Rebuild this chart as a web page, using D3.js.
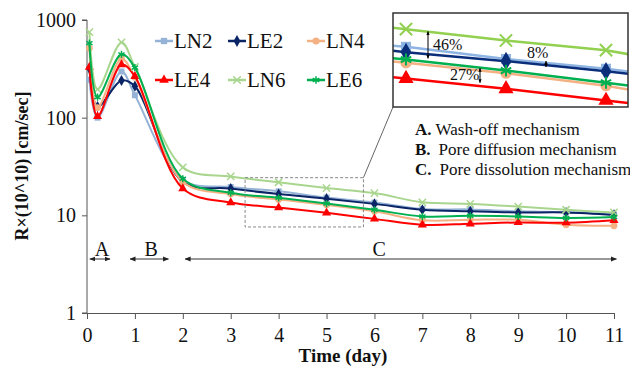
<!DOCTYPE html>
<html>
<head>
<meta charset="utf-8">
<script src="https://cdn.jsdelivr.net/npm/d3@7"></script>
<style>
  body { margin: 0; background: #fff; }
  svg text { font-family: "Liberation Serif", "Times New Roman", serif !important; fill: #111; }
</style>
</head>
<body>
<svg id="chart" width="630" height="372"></svg>
<script>
// sampling times (day)
const days = [0.05, 0.22, 0.72, 1, 2, 3, 4, 5, 6, 7, 8, 9, 10, 11];
const xTicks = [0, 1, 2, 3, 4, 5, 6, 7, 8, 9, 10, 11];
const yTicks = [1, 10, 100, 1000];

// R x 10^10 (cm/sec)
const LN2 = [245, 100, 297, 170, 23, 19.5, 17.6, 15.2, 13.5, 11.6, 11.5, 11, 10.8, 10.2];
const LE2 = [320, 130, 240, 210, 22, 18.8, 16.5, 14.8, 13.1, 11.4, 11.0, 10.7, 10.7, 10.1];
const LN4 = [515, 127, 400, 260, 22, 16.5, 14.5, 12.8, 11, 8.9, 9.0, 9.0, 8.0, 7.8];
const LE4 = [330, 103, 350, 265, 18.8, 13.5, 12, 10.6, 9.2, 8.0, 8.2, 8.45, 8.4, 8.9];
const LN6 = [750, 195, 590, 330, 31, 25, 21.8, 19, 16.9, 13.6, 13.1, 12.3, 11.4, 10.7];
const LE6 = [580, 162, 445, 325, 23.7, 17, 15.1, 13.2, 11.4, 9.75, 9.9, 9.75, 9.4, 9.6];

const seriesNames = ['LN2', 'LE2', 'LN4', 'LE4', 'LN6', 'LE6'];
const seriesValues = [LN2, LE2, LN4, LE4, LN6, LE6];
const colors = ['#95b3d7', '#0a2466', '#f4b183', '#ff0000', '#a9d68e', '#00b050'];
const symbols = ['square', 'diamond', 'circle', 'triangle', 'x', 'star'];

const mechanisms = ['Wash-off mechanism', 'Pore diffusion mechanism', 'Pore dissolution mechanism'];
const mechLetters = ['A.', 'B.', 'C.'];
// phase ranges in days [start, end]
const phases = [{label: 'A', t0: 0.06, t1: 0.48}, {label: 'B', t0: 0.9, t1: 1.7}, {label: 'C', t0: 2.05, t1: 11.05}];

const svg = d3.select('#chart');

const x = d3.scaleLinear().domain([0, 11]).range([87, 614]);
const y = d3.scaleLog().domain([1, 1000]).range([313, 20]);

// axes
const yAxis = svg.append('g').attr('transform', 'translate(87,0)')
  .call(d3.axisLeft(y).tickValues(yTicks).tickFormat(d3.format('d')).tickSize(5).tickPadding(6));
const xAxis = svg.append('g').attr('transform', 'translate(0,313)')
  .call(d3.axisBottom(x).tickValues(xTicks).tickSize(6).tickPadding(9));
[xAxis, yAxis].forEach(a => {
  a.attr('font-family', null);
  a.select('.domain').attr('stroke', '#555');
  a.selectAll('.tick line').attr('stroke', '#555');
  a.selectAll('text').style('font-size', '20px').attr('fill', '#111');
});
yAxis.select('.domain').attr('d', 'M-5,20H0V313H-5');

svg.append('text').attr('transform', 'translate(28,166) rotate(-90)')
  .attr('text-anchor', 'middle').style('font-size', '18px').style('font-weight', 'bold')
  .text('R×(10^10) [cm/sec]');
svg.append('text').attr('x', 343).attr('y', 362)
  .attr('text-anchor', 'middle').style('font-size', '19px').style('font-weight', 'bold')
  .text('Time (day)');

function markerPath(sym, size) {
  const s = {square: d3.symbolSquare, diamond: d3.symbolDiamond, circle: d3.symbolCircle,
             triangle: d3.symbolTriangle, x: d3.symbolTimes, star: d3.symbolAsterisk}[sym];
  return d3.symbol().type(s).size(size)();
}
function isOpen(sym) { return sym === 'x' || sym === 'star'; }

// main lines
const line = d3.line().x(d => x(d[0])).y(d => y(d[1])).curve(d3.curveCatmullRom.alpha(0.5));
seriesValues.forEach((vals, i) => {
  const pts = days.map((t, k) => [t, vals[k]]);
  svg.append('path').attr('d', line(pts)).attr('fill', 'none')
    .attr('stroke', colors[i]).attr('stroke-width', 2);
  svg.append('g').selectAll('path').data(pts).enter().append('path')
    .attr('transform', d => `translate(${x(d[0])},${y(d[1])})`)
    .attr('d', markerPath(symbols[i], 36))
    .attr('fill', isOpen(symbols[i]) ? 'none' : colors[i])
    .attr('stroke', colors[i]).attr('stroke-width', isOpen(symbols[i]) ? 1.5 : 0);
});

// legend
const legendX = [155, 228, 307];
const legendY = [41, 80];
seriesNames.forEach((name, i) => {
  const g = svg.append('g').attr('transform', `translate(${legendX[i % 3]},${legendY[Math.floor(i / 3)]})`);
  g.append('line').attr('x1', 0).attr('x2', 18).attr('stroke', colors[i]).attr('stroke-width', 2.5);
  g.append('path').attr('transform', 'translate(9,0)').attr('d', markerPath(symbols[i], 40))
    .attr('fill', isOpen(symbols[i]) ? 'none' : colors[i])
    .attr('stroke', colors[i]).attr('stroke-width', isOpen(symbols[i]) ? 1.5 : 0);
  g.append('text').attr('x', 19).attr('y', 7).style('font-size', '21px').text(name);
});

// arrow marker
const defs = svg.append('defs');
defs.append('marker').attr('id', 'ah').attr('viewBox', '0 0 10 10').attr('refX', 9).attr('refY', 5)
  .attr('markerWidth', 6).attr('markerHeight', 6).attr('orient', 'auto-start-reverse')
  .append('path').attr('d', 'M0,1L10,5L0,9Z').attr('fill', '#222');

// phases
phases.forEach(p => {
  svg.append('line').attr('x1', x(p.t0)).attr('x2', x(p.t1)).attr('y1', 259).attr('y2', 259)
    .attr('stroke', '#333').attr('stroke-width', 1)
    .attr('marker-start', 'url(#ah)').attr('marker-end', 'url(#ah)');
  const cx = p.label === 'C' ? x(6.1) : x((p.t0 + p.t1) / 2) + 2;
  svg.append('text').attr('x', cx).attr('y', 256).attr('text-anchor', 'middle')
    .style('font-size', '20px').text(p.label);
});

// mechanism notes
mechanisms.forEach((m, i) => {
  const t = svg.append('text').attr('x', 415).attr('y', 135 + i * 20).style('font-size', '17px');
  t.append('tspan').style('font-weight', 'bold').text(mechLetters[i]);
  t.append('tspan').attr('dx', i === 0 ? 4 : 8).text(m);
});

// dashed zoom region
const zoomBox = {t0: 3.3, t1: 5.77, v0: 7.6, v1: 24.3};
svg.append('rect').attr('x', x(zoomBox.t0)).attr('y', y(zoomBox.v1))
  .attr('width', x(zoomBox.t1) - x(zoomBox.t0)).attr('height', y(zoomBox.v0) - y(zoomBox.v1))
  .attr('fill', 'none').attr('stroke', '#888').attr('stroke-width', 1).attr('stroke-dasharray', '3,2');

// inset
const inset = {x0: 393, x1: 628, y0: 13, y1: 107};
const xi = d3.scaleLinear().domain([3.87, 6.22]).range([inset.x0, inset.x1]);
const yi = d3.scaleLog().domain([8.5, 26.5]).range([inset.y1, inset.y0]);

svg.append('line').attr('x1', inset.x0).attr('y1', inset.y1)
  .attr('x2', x(zoomBox.t1)).attr('y2', y(zoomBox.v1)).attr('stroke', '#666').attr('stroke-width', 1);

defs.append('clipPath').attr('id', 'insetClip').append('rect')
  .attr('x', inset.x0).attr('y', inset.y0).attr('width', inset.x1 - inset.x0).attr('height', inset.y1 - inset.y0);
svg.append('rect').attr('x', inset.x0).attr('y', inset.y0)
  .attr('width', inset.x1 - inset.x0).attr('height', inset.y1 - inset.y0).attr('fill', '#fff');

const gi = svg.append('g').attr('clip-path', 'url(#insetClip)');
const insetColors = ['#8db4e2', '#0a2e7a', '#f4b183', '#ff0000', '#92d050', '#00b050'];
const lineI = d3.line().x(d => xi(d[0])).y(d => yi(d[1]));
const drawOrder = [4, 0, 1, 2, 5, 3];
drawOrder.forEach(i => {
  const pts = days.map((t, k) => [t, seriesValues[i][k]]).filter(d => d[0] >= 3 && d[0] <= 7);
  gi.append('path').attr('d', lineI(pts)).attr('fill', 'none')
    .attr('stroke', insetColors[i]).attr('stroke-width', 2.5);
  gi.append('g').selectAll('path').data(pts.filter(d => d[0] >= 4 && d[0] <= 6)).enter().append('path')
    .attr('transform', d => `translate(${xi(d[0])},${yi(d[1])})`)
    .attr('d', markerPath(symbols[i], 100))
    .attr('fill', isOpen(symbols[i]) ? 'none' : insetColors[i])
    .attr('stroke', insetColors[i]).attr('stroke-width', isOpen(symbols[i]) ? 2 : 0);
});
svg.append('rect').attr('x', inset.x0).attr('y', inset.y0)
  .attr('width', inset.x1 - inset.x0).attr('height', inset.y1 - inset.y0)
  .attr('fill', 'none').attr('stroke', '#333').attr('stroke-width', 1.5);

// percentage gaps
const gaps = [
  {label: '46%', t: 4.22, top: 21.2, bottom: 15.3, tx: 433, ty: 50},
  {label: '8%', t: 5.4, top: 14.8, bottom: 13.8, tx: 527, ty: 58},
  {label: '27%', t: 4.74, top: 13.6, bottom: 11.4, tx: 450, ty: 80}
];
defs.append('marker').attr('id', 'ahs').attr('viewBox', '0 0 10 10').attr('refX', 9).attr('refY', 5)
  .attr('markerWidth', 4).attr('markerHeight', 4).attr('orient', 'auto-start-reverse')
  .append('path').attr('d', 'M0,1L10,5L0,9Z').attr('fill', '#000');
gaps.forEach(g => {
  svg.append('line').attr('x1', xi(g.t)).attr('x2', xi(g.t)).attr('y1', yi(g.top)).attr('y2', yi(g.bottom))
    .attr('stroke', '#000').attr('stroke-width', 1)
    .attr('marker-start', 'url(#ahs)').attr('marker-end', 'url(#ahs)');
  svg.append('text').attr('x', g.tx).attr('y', g.ty).style('font-size', '16px').text(g.label);
});
</script>
</body>
</html>
